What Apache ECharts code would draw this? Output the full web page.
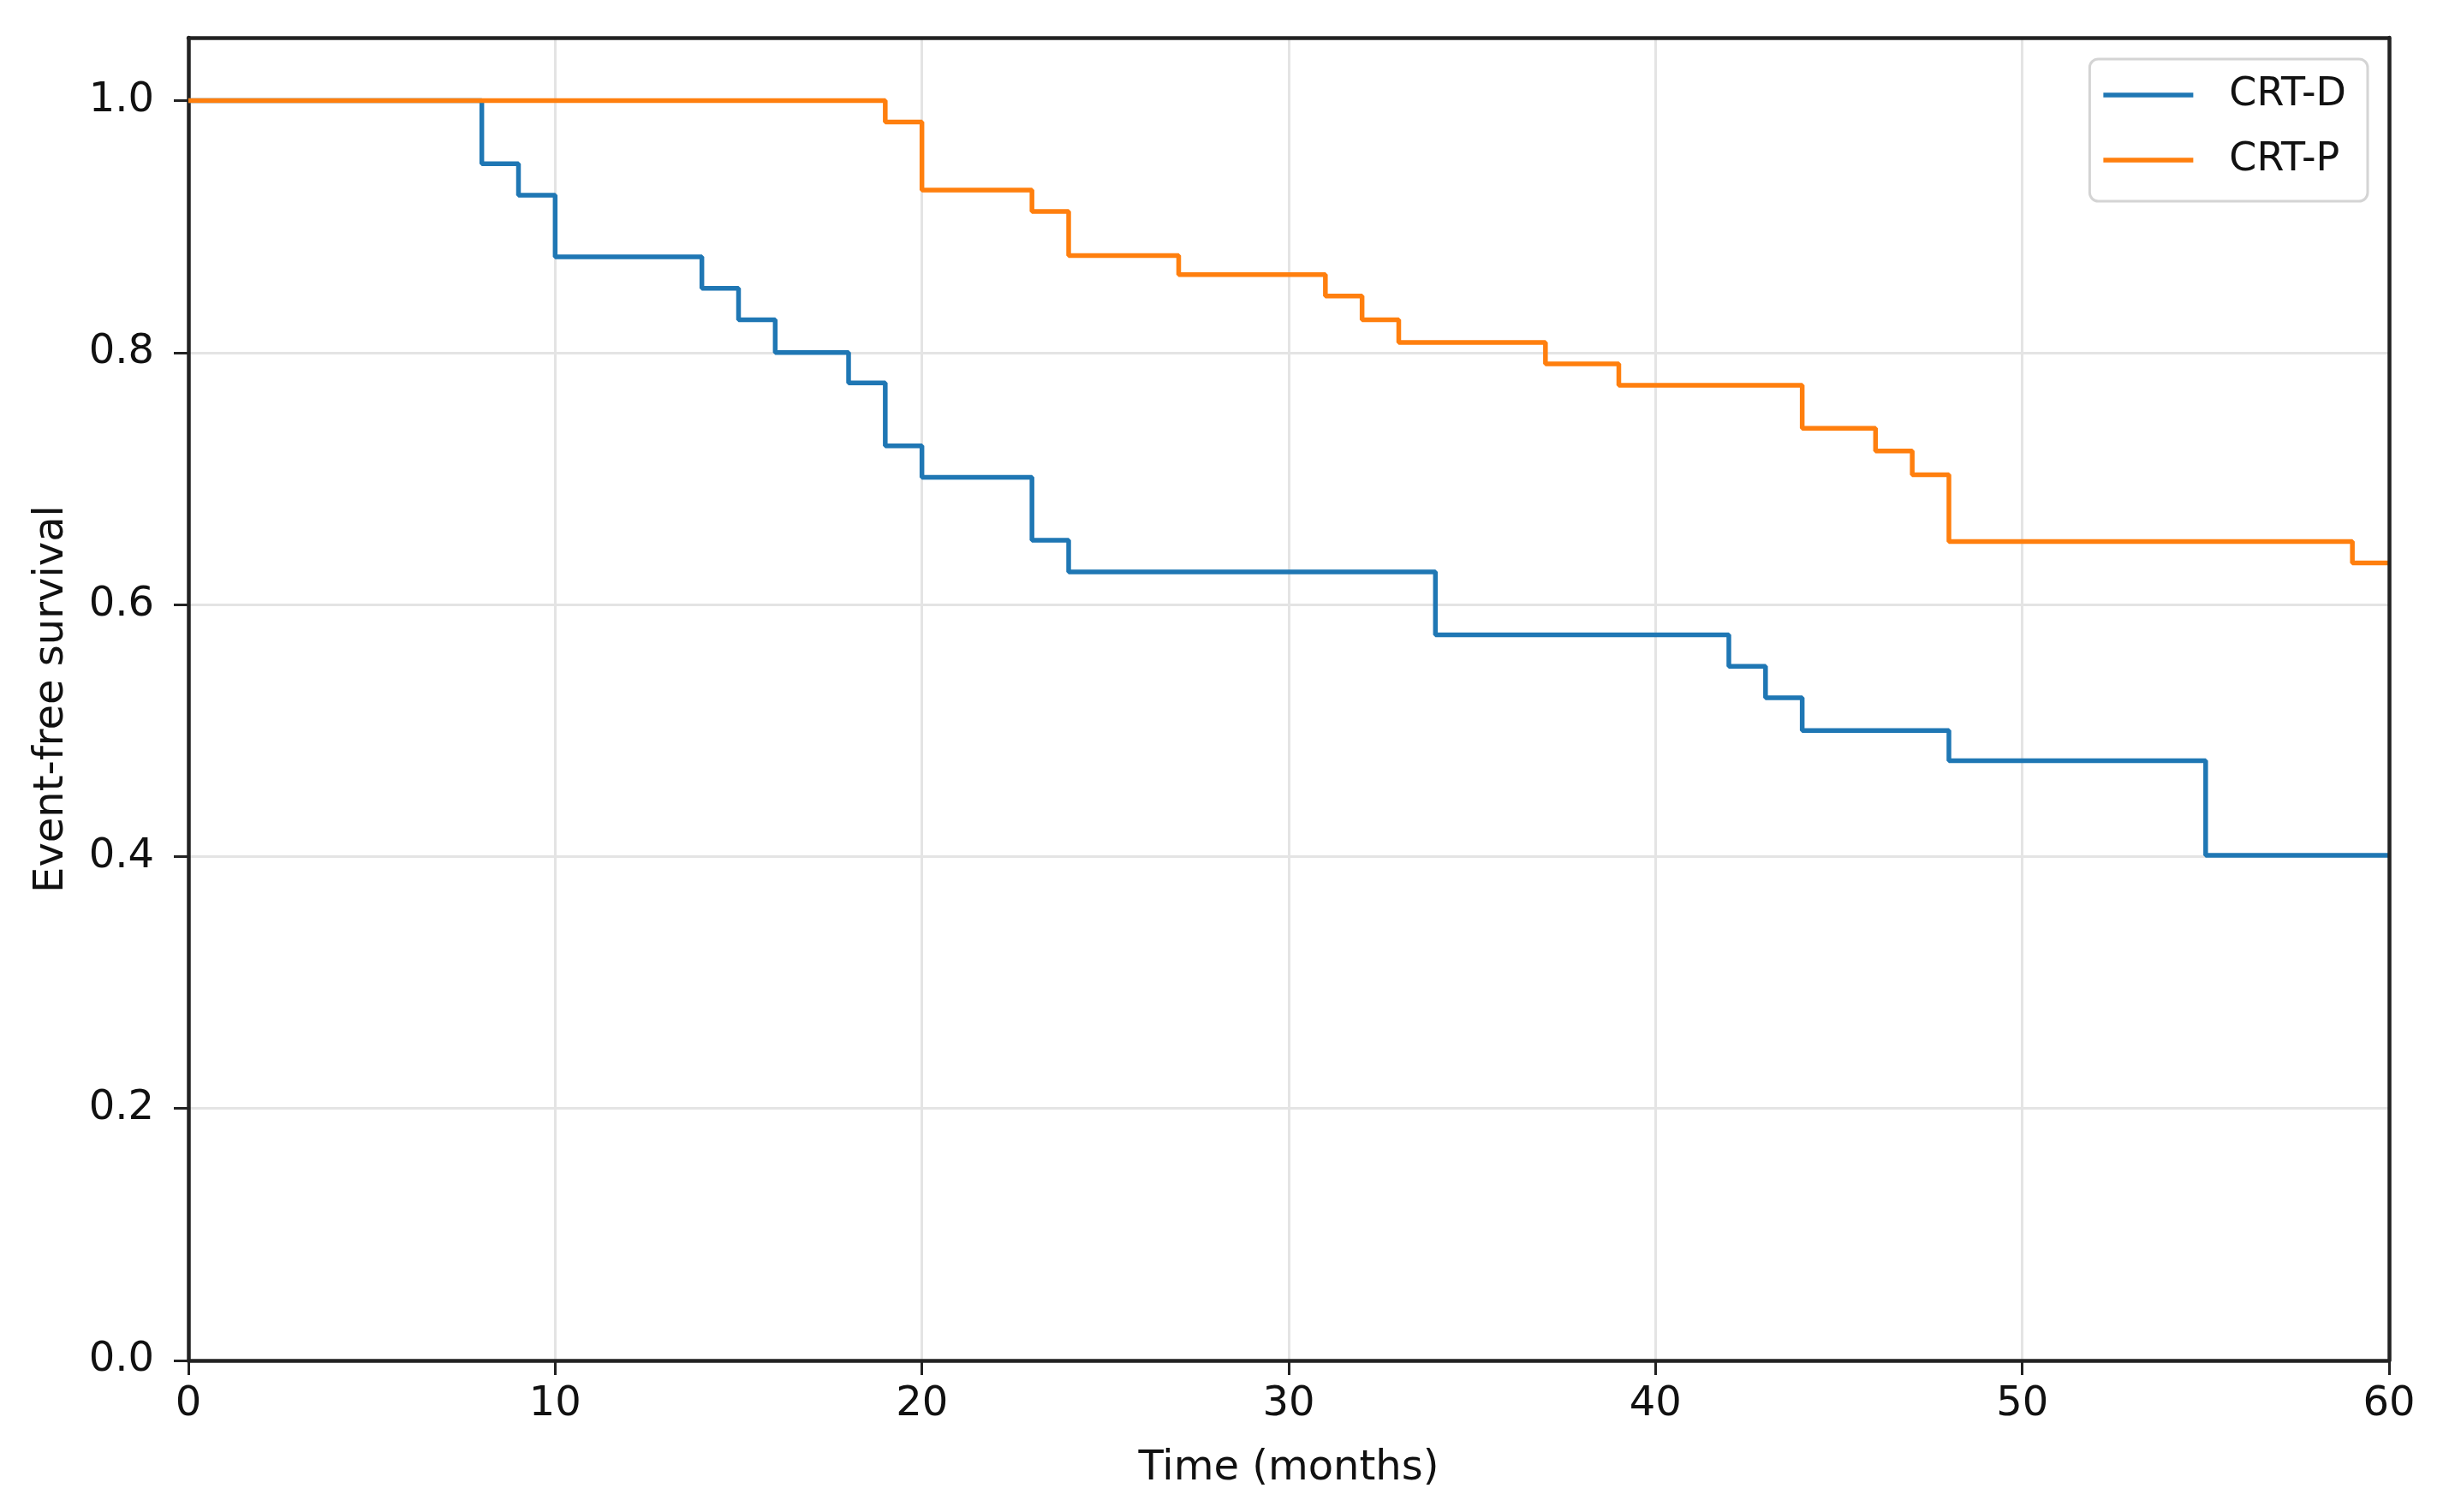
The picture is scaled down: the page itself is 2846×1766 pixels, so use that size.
<!DOCTYPE html>
<html>
<head>
<meta charset="utf-8">
<script src="https://cdn.jsdelivr.net/npm/echarts@6/dist/echarts.min.js"></script>
<style>
html,body{margin:0;padding:0;background:#fff;}
#chart{width:2846px;height:1766px;}
</style>
</head>
<body>
<div id="chart"></div>
<script>
// Kaplan-Meier step data (time in months, event-free survival)
const seriesNames = ['CRT-D', 'CRT-P'];
const timesD = [0, 8, 9, 10, 14, 15, 16, 18, 19, 20, 23, 24, 34, 42, 43, 44, 48, 55, 60];
const survD  = [1.0, 0.95, 0.925, 0.876, 0.851, 0.826, 0.80, 0.776, 0.726, 0.701, 0.651, 0.626, 0.576, 0.551, 0.526, 0.50, 0.476, 0.401, 0.401];
const timesP = [0, 19, 20, 23, 24, 27, 31, 32, 33, 37, 39, 44, 46, 47, 48, 59, 60];
const survP  = [1.0, 0.983, 0.929, 0.912, 0.877, 0.862, 0.845, 0.826, 0.808, 0.791, 0.774, 0.740, 0.722, 0.703, 0.650, 0.633, 0.633];
const xTicks = [0, 10, 20, 30, 40, 50, 60];
const yTicks = [0.0, 0.2, 0.4, 0.6, 0.8, 1.0];

const pairs = (xs, ys) => xs.map((x, i) => [x, ys[i]]);
const FONT = 'DejaVu Sans';
const TXT = '#111';
const FRAME = {color: '#222', width: 4.5};

const chart = echarts.init(document.getElementById('chart'), null, {renderer: 'canvas'});
chart.setOption({
  animation: false,
  backgroundColor: '#fff',
  grid: {left: 220, top: 44, right: 56, bottom: 177, show: false},
  legend: {
    orient: 'vertical',
    right: 81, top: 69,
    padding: [19, 25, 25, 16],
    itemWidth: 105, itemHeight: 5.5, itemGap: 30,
    icon: 'rect',
    data: seriesNames,
    textStyle: {fontSize: 46, lineHeight: 46, color: TXT, fontFamily: FONT, padding: [0, 0, 0, 37]},
    backgroundColor: 'rgba(255,255,255,0.85)',
    borderColor: '#d4d4d4', borderWidth: 3, borderRadius: 10,
    z: 10
  },
  xAxis: [{
    type: 'value', min: 0, max: 60, interval: 10,
    name: 'Time (months)', nameLocation: 'middle', nameGap: 103,
    nameTextStyle: {fontSize: 48, lineHeight: 48, color: TXT, fontFamily: FONT},
    axisLine: {show: true, onZero: false, lineStyle: FRAME},
    axisTick: {show: true, inside: false, length: 17, lineStyle: {color: '#222', width: 3}, customValues: xTicks},
    axisLabel: {fontSize: 48, lineHeight: 48, color: TXT, fontFamily: FONT, margin: 28, customValues: xTicks,
      formatter: v => String(v)},
    splitLine: {show: true, showMinLine: false, showMaxLine: false, lineStyle: {color: '#e4e4e4', width: 3}},
    z: 0
  }, {
    type: 'value', position: 'top', min: 0, max: 60, interval: 10,
    axisLine: {show: true, onZero: false, lineStyle: FRAME},
    axisTick: {show: false}, axisLabel: {show: false}, splitLine: {show: false}, z: 6
  }],
  yAxis: [{
    type: 'value', min: 0, max: 1.05, interval: 0.2,
    name: 'Event-free survival', nameLocation: 'middle', nameGap: 135,
    nameTextStyle: {fontSize: 48, lineHeight: 48, color: TXT, fontFamily: FONT},
    axisLine: {show: true, onZero: false, lineStyle: FRAME},
    axisTick: {show: true, inside: false, length: 17, lineStyle: {color: '#222', width: 3}, customValues: yTicks},
    axisLabel: {fontSize: 48, lineHeight: 48, color: TXT, fontFamily: FONT, margin: 40, customValues: yTicks,
      formatter: v => (Math.abs(v * 5 - Math.round(v * 5)) < 1e-6 ? v.toFixed(1) : '')},
    splitLine: {show: true, showMinLine: false, showMaxLine: false, lineStyle: {color: '#e4e4e4', width: 3}},
    z: 0
  }, {
    type: 'value', position: 'right', min: 0, max: 1.05, interval: 0.2,
    axisLine: {show: true, onZero: false, lineStyle: FRAME},
    axisTick: {show: false}, axisLabel: {show: false}, splitLine: {show: false}, z: 6
  }],
  series: [
    {
      name: seriesNames[0], type: 'line', step: 'end', symbol: 'none',
      xAxisIndex: 0, yAxisIndex: 0,
      data: pairs(timesD, survD),
      lineStyle: {color: '#1f77b4', width: 5.5}, itemStyle: {color: '#1f77b4'}, z: 3
    },
    {
      name: seriesNames[1], type: 'line', step: 'end', symbol: 'none',
      xAxisIndex: 0, yAxisIndex: 0,
      data: pairs(timesP, survP),
      lineStyle: {color: '#ff7f0e', width: 5.5}, itemStyle: {color: '#ff7f0e'}, z: 4
    }
  ]
});
</script>
</body>
</html>
